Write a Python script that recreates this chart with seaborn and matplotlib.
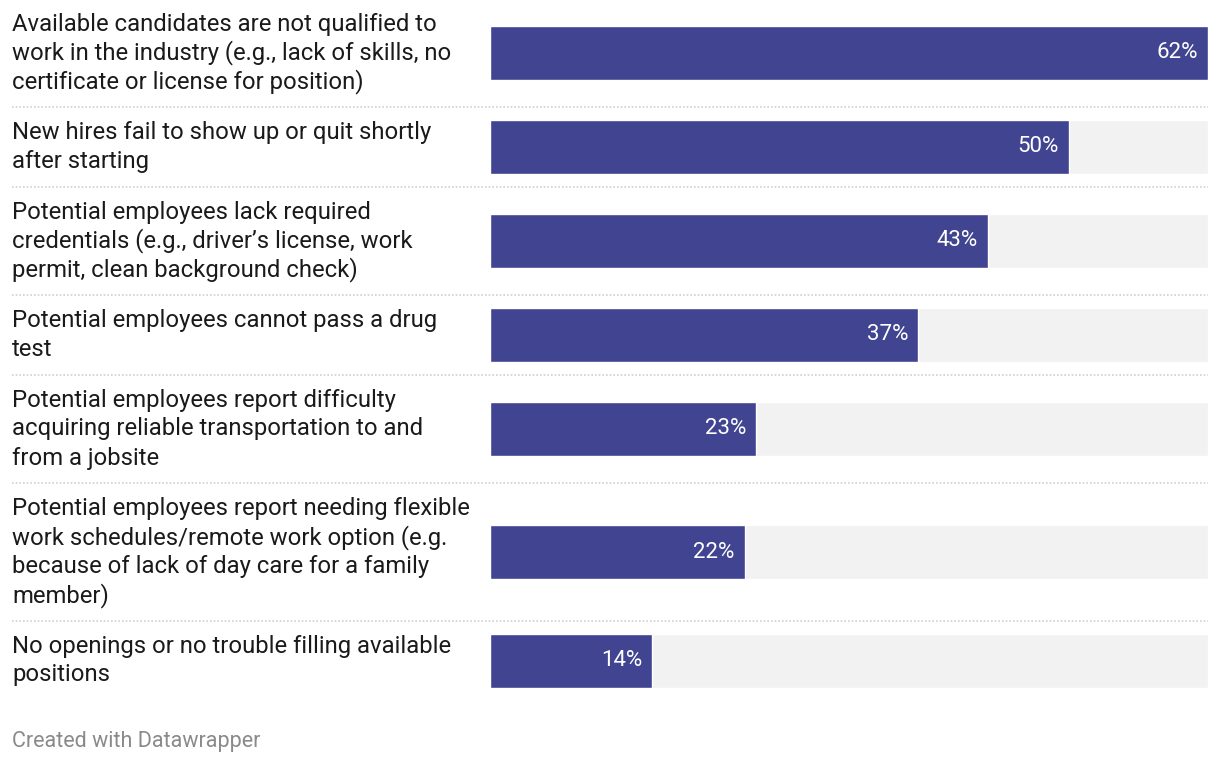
import numpy as np
import matplotlib
matplotlib.use("Agg")
import matplotlib.pyplot as plt
import matplotlib.transforms as mtransforms
import seaborn as sns

labels = [
    "Available candidates are not qualified to\nwork in the industry (e.g., lack of skills, no\ncertificate or license for position)",
    "New hires fail to show up or quit shortly\nafter starting",
    "Potential employees lack required\ncredentials (e.g., driver\u2019s license, work\npermit, clean background check)",
    "Potential employees cannot pass a drug\ntest",
    "Potential employees report difficulty\nacquiring reliable transportation to and\nfrom a jobsite",
    "Potential employees report needing flexible\nwork schedules/remote work option (e.g.\nbecause of lack of day care for a family\nmember)",
    "No openings or no trouble filling available\npositions",
]
values = [62, 50, 43, 37, 23, 22, 14]
value_labels = ["62%", "50%", "43%", "37%", "23%", "22%", "14%"]

BAR_COLOR = "#414490"
BG_COLOR = "#f2f2f2"

sns.set_theme(style="white")
plt.rcParams["font.family"] = ["Roboto", "DejaVu Sans"]

# layout in pixel-like units (figure is 766 px tall)
LINE_H = 29
GAP = 21.5
TOP = 9.5
n_lines = [lab.count("\n") + 1 for lab in labels]
heights = [n * LINE_H for n in n_lines]
centers = []
y = TOP
for h in heights:
    centers.append(y + h / 2)
    y += h + GAP
centers = np.array(centers)
BAR_H = 54
min_step = np.diff(centers).min()

fig = plt.figure(figsize=(12.2, 7.66), dpi=100)
ax = fig.add_axes([490 / 1220, 0, (1208 - 490) / 1220, 1])

vmax = max(values)
sns.barplot(x=[vmax] * len(values), y=centers, orient="h", native_scale=True,
            color=BG_COLOR, saturation=1, width=BAR_H / min_step, ax=ax)
sns.barplot(x=values, y=centers, orient="h", native_scale=True,
            color=BAR_COLOR, saturation=1, width=BAR_H / min_step, ax=ax)

ax.set_xlim(0, vmax)
ax.set_ylim(766, 0)
ax.axis("off")

# value labels inside bars
offset = mtransforms.ScaledTranslation(-10 / 100, 0, fig.dpi_scale_trans)
for v, lab, c in zip(values, value_labels, centers):
    ax.text(v, c, lab, ha="right", va="center", color="white", fontsize=16,
            transform=ax.transData + offset)

# category labels, one line at a time
blend = mtransforms.blended_transform_factory(fig.transFigure, ax.transData)
for lab, c, n in zip(labels, centers, n_lines):
    for j, line in enumerate(lab.split("\n")):
        ax.text(12 / 1220, c + (j - (n - 1) / 2) * LINE_H, line, ha="left",
                va="center", fontsize=17.2, color="#1a1a1a", transform=blend)

# dotted separators between rows
for c, h in zip(centers[:-1], heights[:-1]):
    ys = c + h / 2 + GAP / 2
    ax.plot([12 / 1220, 1208 / 1220], [ys, ys], transform=blend, clip_on=False,
            color="#cfcfcf", lw=1.2, linestyle=(0, (1, 1.2)))

fig.text(12 / 1220, 1 - 741 / 766, "Created with Datawrapper", ha="left",
         va="center", fontsize=15.5, color="#8a8a8a")

fig.savefig("out.png", dpi=100, facecolor="white")
